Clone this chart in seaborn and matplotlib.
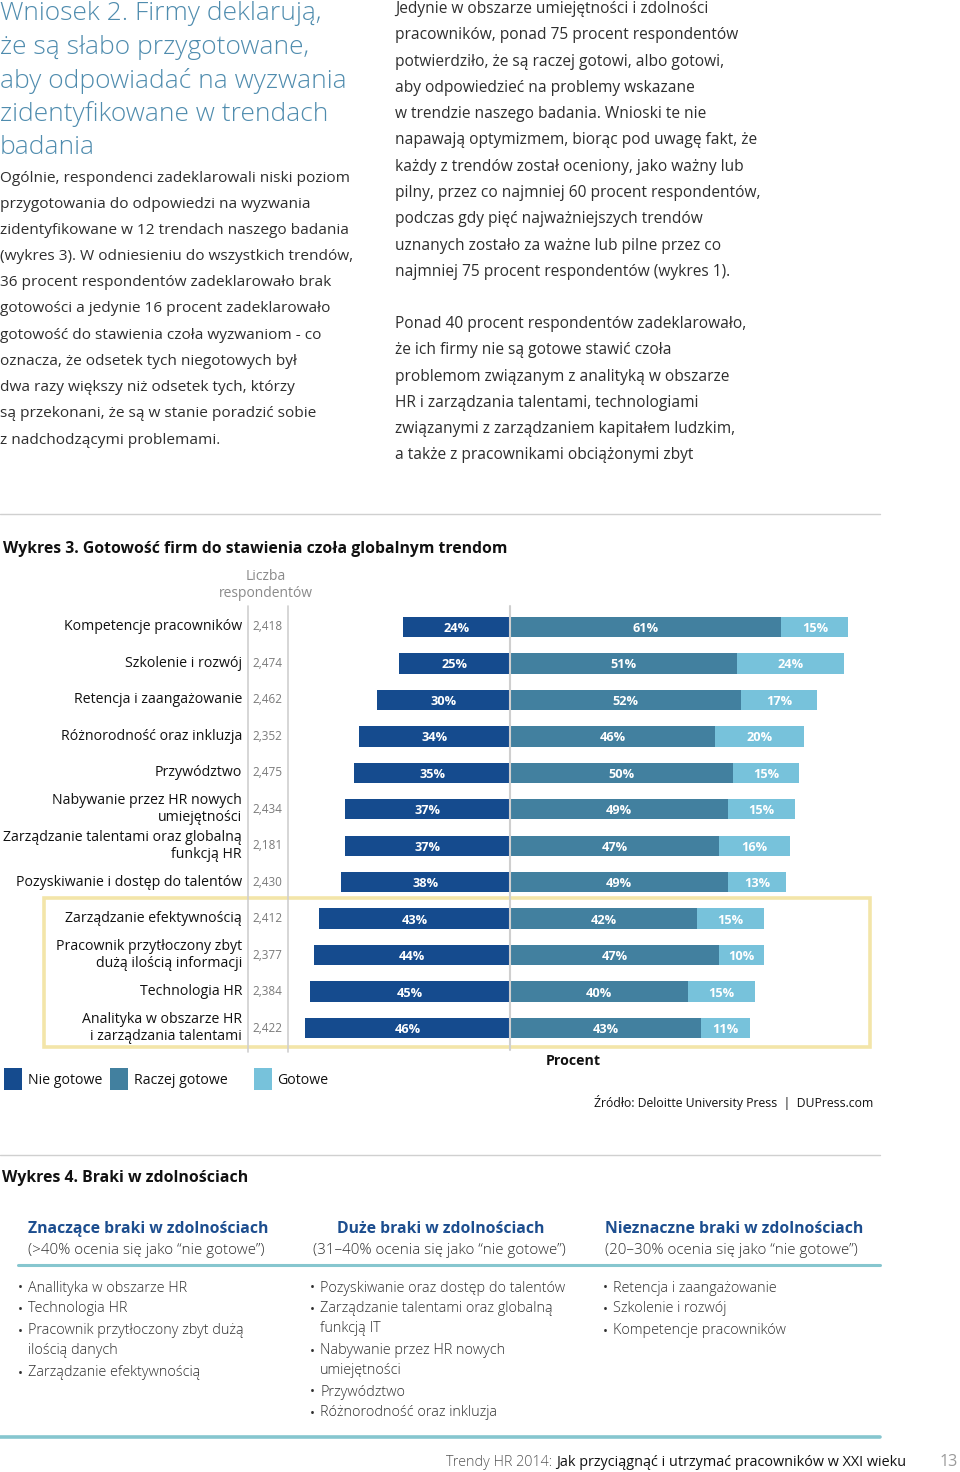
import numpy as np
import pandas as pd
import matplotlib
matplotlib.use("Agg")
import matplotlib.pyplot as plt
import seaborn as sns
from matplotlib import transforms
from matplotlib.patches import Rectangle
from matplotlib.lines import Line2D

# ---------------- data ----------------
trends = [
    "Kompetencje pracowników",
    "Szkolenie i rozwój",
    "Retencja i zaangażowanie",
    "Różnorodność oraz inkluzja",
    "Przywództwo",
    "Nabywanie przez HR nowych\numiejętności",
    "Zarządzanie talentami oraz globalną\nfunkcją HR",
    "Pozyskiwanie i dostęp do talentów",
    "Zarządzanie efektywnością",
    "Pracownik przytłoczony zbyt\ndużą ilością informacji",
    "Technologia HR",
    "Analityka w obszarze HR\ni zarządzania talentami",
]
respondents = ["2,418", "2,474", "2,462", "2,352", "2,475", "2,434",
               "2,181", "2,430", "2,412", "2,377", "2,384", "2,422"]
nie_gotowe = [24, 25, 30, 34, 35, 37, 37, 38, 43, 44, 45, 46]
raczej_gotowe = [61, 51, 52, 46, 50, 49, 47, 49, 42, 47, 40, 43]
gotowe = [15, 24, 17, 20, 15, 15, 16, 13, 15, 10, 15, 11]
series_names = ["Nie gotowe", "Raczej gotowe", "Gotowe"]

heading_lines = ["Wniosek 2. Firmy deklarują,", "że są słabo przygotowane,",
                 "aby odpowiadać na wyzwania", "zidentyfikowane w trendach", "badania"]
left_body = [
    "Ogólnie, respondenci zadeklarowali niski poziom",
    "przygotowania do odpowiedzi na wyzwania",
    "zidentyfikowane w 12 trendach naszego badania",
    "(wykres 3). W odniesieniu do wszystkich trendów,",
    "36 procent respondentów zadeklarowało brak",
    "gotowości a jedynie 16 procent zadeklarowało",
    "gotowość do stawienia czoła wyzwaniom - co",
    "oznacza, że odsetek tych niegotowych był",
    "dwa razy większy niż odsetek tych, którzy",
    "są przekonani, że są w stanie poradzić sobie",
    "z nadchodzącymi problemami.",
]
right_body_1 = [
    "Jedynie w obszarze umiejętności i zdolności",
    "pracowników, ponad 75 procent respondentów",
    "potwierdziło, że są raczej gotowi, albo gotowi,",
    "aby odpowiedzieć na problemy wskazane",
    "w trendzie naszego badania. Wnioski te nie",
    "napawają optymizmem, biorąc pod uwagę fakt, że",
    "każdy z trendów został oceniony, jako ważny lub",
    "pilny, przez co najmniej 60 procent respondentów,",
    "podczas gdy pięć najważniejszych trendów",
    "uznanych zostało za ważne lub pilne przez co",
    "najmniej 75 procent respondentów (wykres 1).",
]
right_body_2 = [
    "Ponad 40 procent respondentów zadeklarowało,",
    "że ich firmy nie są gotowe stawić czoła",
    "problemom związanym z analityką w obszarze",
    "HR i zarządzania talentami, technologiami",
    "związanymi z zarządzaniem kapitałem ludzkim,",
    "a także z pracownikami obciążonymi zbyt",
]

col_heads = ["Znaczące braki w zdolnościach", "Duże braki w zdolnościach",
             "Nieznaczne braki w zdolnościach"]
col_subs = ["(>40% ocenia się jako “nie gotowe”)", "(31–40% ocenia się jako “nie gotowe”)",
            "(20–30% ocenia się jako “nie gotowe”)"]
col1_items = [("•", "Anallityka w obszarze HR"), ("•", "Technologia HR"),
              ("•", "Pracownik przytłoczony zbyt dużą"), ("", "ilością danych"),
              ("•", "Zarządzanie efektywnością")]
col2_items = [("•", "Pozyskiwanie oraz dostęp do talentów"),
              ("•", "Zarządzanie talentami oraz globalną"), ("", "funkcją IT"),
              ("•", "Nabywanie przez HR nowych"), ("", "umiejętności"),
              ("•", "Przywództwo"), ("•", "Różnorodność oraz inkluzja")]
col3_items = [("•", "Retencja i zaangażowanie"), ("•", "Szkolenie i rozwój"),
              ("•", "Kompetencje pracowników")]

# ---------------- style ----------------
W, H = 960, 1472
C_DARK, C_MID, C_LIGHT = "#154b8e", "#42809f", "#77c2db"
C_HEAD = "#4f8cae"
C_TEXT = "#2e2e2e"
C_GRAY = "#8a8a8a"
C_NAVY = "#1d4e8f"
C_TEAL = "#86c6cf"

sns.set_theme(style="white")
plt.rcParams["font.family"] = ["Open Sans", "DejaVu Sans"]

fig = plt.figure(figsize=(W / 100, H / 100), dpi=100)
fig.patch.set_facecolor("white")


def fx(x):
    return x / W


def fy(y):
    return 1 - y / H


def ftext(x, y, s, **kw):
    kw.setdefault("va", "center")
    kw.setdefault("ha", "left")
    return fig.text(fx(x), fy(y), s, **kw)


def hline(x0, x1, y, color, lw):
    fig.add_artist(Line2D([fx(x0), fx(x1)], [fy(y), fy(y)], color=color, lw=lw,
                          transform=fig.transFigure))


def vline(x, y0, y1, color, lw):
    fig.add_artist(Line2D([fx(x), fx(x)], [fy(y0), fy(y1)], color=color, lw=lw,
                          transform=fig.transFigure))


# ---------------- top text ----------------
for i, s in enumerate(heading_lines):
    ftext(0, 14 + i * 33.5, s, fontsize=19, color=C_HEAD, fontweight="light")
for i, s in enumerate(left_body):
    ftext(0, 178 + i * 26.2, s, fontsize=11.1, color=C_TEXT, fontweight="normal")
for i, s in enumerate(right_body_1):
    ftext(395, 9 + i * 26.3, s, fontsize=11.2, color=C_TEXT, fontweight="normal")
for i, s in enumerate(right_body_2):
    ftext(395, 324 + i * 26.3, s, fontsize=11.2, color=C_TEXT, fontweight="normal")

hline(0, 880, 514, "#d0d0d0", 1)

# ---------------- Wykres 3 ----------------
ftext(3, 549, "Wykres 3. Gotowość firm do stawienia czoła globalnym trendom",
      fontsize=11.3, fontweight="bold", color="#111111")
ftext(266, 585, "Liczba\nrespondentów", ha="center", fontsize=10, color=C_GRAY,
      linespacing=1.15)

px_per_pct = 4.45
zero_px = 510
ax_left, ax_right = 296, 880
row_top, row_bot = 627, 1028
step = (row_bot - row_top) / (len(trends) - 1)
ax_top, ax_bottom = row_top - step / 2, row_bot + step / 2
ax = fig.add_axes([fx(ax_left), fy(ax_bottom), (ax_right - ax_left) / W,
                   (ax_bottom - ax_top) / H])
ax.patch.set_alpha(0)

rows = []
for t, n, r, g in zip(trends, nie_gotowe, raczej_gotowe, gotowe):
    rows.append({"trend": t, "series": "Gotowe", "value": r + g})
    rows.append({"trend": t, "series": "Raczej gotowe", "value": r})
    rows.append({"trend": t, "series": "Nie gotowe", "value": -n})
df = pd.DataFrame(rows)

sns.barplot(data=df, x="value", y="trend", hue="series", order=trends,
            hue_order=["Gotowe", "Raczej gotowe", "Nie gotowe"],
            palette={"Nie gotowe": C_DARK, "Raczej gotowe": C_MID, "Gotowe": C_LIGHT},
            dodge=False, width=0.56, saturation=1, errorbar=None, legend=False,
            orient="h", ax=ax, linewidth=0)

ax.set_xlim(-(zero_px - ax_left) / px_per_pct, (ax_right - zero_px) / px_per_pct)
ax.set_ylim(len(trends) - 0.5, -0.5)
ax.set_xlabel("")
ax.set_ylabel("")
ax.set_xticks([])
ax.set_yticks([])
for sp in ax.spines.values():
    sp.set_visible(False)

# value labels
for i, (n, r, g) in enumerate(zip(nie_gotowe, raczej_gotowe, gotowe)):
    kw = dict(ha="center", va="center", color="white", fontsize=9.2, fontweight="bold")
    ax.text(-n / 2, i + 0.04, f"{n}%", **kw)
    ax.text(r / 2, i + 0.04, f"{r}%", **kw)
    ax.text(r + g / 2, i + 0.04, f"{g}%", **kw)

# category labels and respondent counts
trans = transforms.blended_transform_factory(fig.transFigure, ax.transData)
for i, (t, c) in enumerate(zip(trends, respondents)):
    ax.text(fx(242), i, t, transform=trans, ha="right", va="center", fontsize=10.2,
            color="#111111", linespacing=1.2, multialignment="right")
    ax.text(fx(252), i, c, transform=trans, ha="left", va="center", fontsize=8.5,
            color="#7a7a7a")

# divider lines
vline(248, 606, 1052, "#cfcfcf", 1.2)
vline(288, 606, 1052, "#cfcfcf", 1.2)
vline(zero_px, 606, 1050, "#cfcfcf", 1.5)

# yellow highlight box
fig.add_artist(Rectangle((fx(44), fy(1047)), (870 - 44) / W, (1047 - 898) / H,
                         transform=fig.transFigure, fill=False,
                         edgecolor="#f3e5a9", lw=2.6))

# legend
legend_pos = [(4, 28), (110, 134), (254, 277)]
for (bx, tx), name, col in zip(legend_pos, series_names, [C_DARK, C_MID, C_LIGHT]):
    fig.add_artist(Rectangle((fx(bx), fy(1090)), 18 / W, 22 / H,
                             transform=fig.transFigure, color=col, lw=0))
    ftext(tx, 1080, name, fontsize=10.2, color="#111111")

ftext(573, 1061, "Procent", ha="center", fontsize=10.2, fontweight="bold", color="#111111")
ftext(873, 1103, "Źródło: Deloitte University Press  |  DUPress.com", ha="right",
      fontsize=8.8, color="#111111")

hline(0, 880, 1155, "#d0d0d0", 1)

# ---------------- Wykres 4 ----------------
ftext(2, 1178, "Wykres 4. Braki w zdolnościach", fontsize=11.4, fontweight="bold",
      color="#111111")
head_x = [28, 337, 605]
sub_x = [28, 313, 605]
for hx, sx, h, s in zip(head_x, sub_x, col_heads, col_subs):
    ftext(hx, 1229, h, fontsize=11.3, fontweight="bold", color=C_NAVY)
    ftext(sx, 1251, s, fontsize=10.9, color=C_TEXT, fontweight="light")
hline(18, 880, 1265, C_TEAL, 2.2)

col_specs = [(18, col1_items, [1288, 1309, 1331, 1351, 1373]),
             (310, col2_items, [1288, 1309, 1329, 1351, 1371, 1392, 1413]),
             (603, col3_items, [1288, 1309, 1331])]
for bx, items, ys in col_specs:
    for (b, s), y in zip(items, ys):
        if b:
            ftext(bx, y, b, fontsize=9.5, color=C_TEXT)
        ftext(bx + 10, y, s, fontsize=10.4, color=C_TEXT, fontweight="light")

hline(0, 880, 1437, C_TEAL, 2.6)

# footer
t2 = ftext(906, 1462, "Jak przyciągnąć i utrzymać pracowników w XXI wieku", ha="right",
           fontsize=10.4, color="#111111")
renderer = fig.canvas.get_renderer()
bb = t2.get_window_extent(renderer=renderer)
fig.text(bb.x0 / fig.bbox.width, fy(1462), "Trendy HR 2014: ", ha="right", va="center",
         fontsize=10.4, color="#555555", fontweight="light")
ftext(958, 1462, "13", ha="right", fontsize=11.5, color="#9a9a9a")

fig.savefig("out.png", dpi=100, facecolor="white")
